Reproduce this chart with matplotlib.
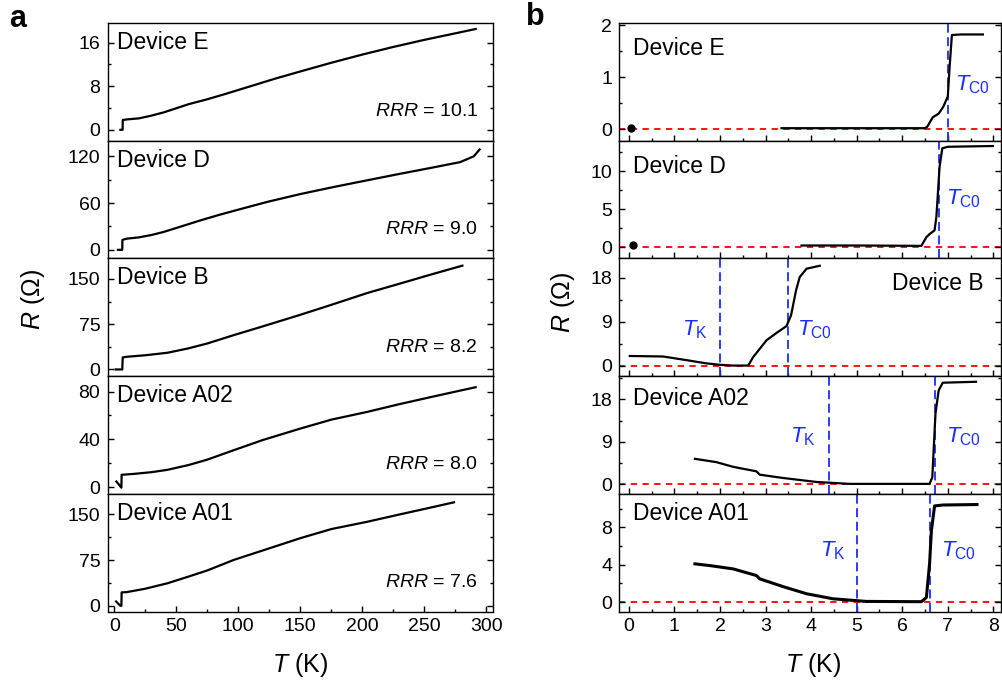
import matplotlib
matplotlib.use("Agg")
import matplotlib.pyplot as plt
from matplotlib.ticker import MultipleLocator

plt.rcParams['font.family'] = ['Liberation Sans', 'DejaVu Sans']
plt.rcParams['mathtext.fontset'] = 'custom'
plt.rcParams['mathtext.rm'] = 'Liberation Sans'
plt.rcParams['mathtext.it'] = 'Liberation Sans:italic'
plt.rcParams['mathtext.bf'] = 'Liberation Sans:bold'
plt.rcParams['axes.linewidth'] = 1.0

# ---- panel a: R(T) up to room temperature ----
devices = ["Device E", "Device D", "Device B", "Device A02", "Device A01"]
rrr = ["10.1", "9.0", "8.2", "8.0", "7.6"]

T_a_E = [5, 6.8, 6.9, 10, 20, 30, 40, 50, 60, 75, 90, 110, 130, 150, 175,
         200, 225, 250, 275, 291.5]
R_a_E = [0, 0, 1.8, 1.9, 2.1, 2.6, 3.2, 3.95, 4.7, 5.6, 6.6, 8.0, 9.4, 10.7,
         12.3, 13.8, 15.2, 16.5, 17.7, 18.5]
T_a_D = [3, 6.5, 6.6, 10, 20, 30, 40, 50, 60, 70, 85, 100, 123.5, 150, 177,
         205, 231, 255, 279, 290, 294.7]
R_a_D = [0, 0, 12.7, 14.3, 16, 19, 23, 28, 33, 38, 45, 51.5, 61.5, 71.5,
         80.6, 89.5, 97.7, 105, 112.5, 120, 128.7]
T_a_B = [1.2, 6.5, 6.9, 10, 25, 43, 60, 75, 96.6, 120, 150, 175, 204, 230,
         255, 280.8]
R_a_B = [0, 0, 20, 21, 23.5, 27.7, 35, 43, 57, 71.5, 90.5, 107, 126.6, 142,
         157, 172]
T_a_A02 = [1.8, 5.8, 6.0, 16, 30, 43, 60, 75, 96.6, 120, 150, 175, 204, 230,
           260, 291.5]
R_a_A02 = [4.7, -0.5, 10.3, 11.1, 12.5, 14.5, 18.5, 23, 31, 39.5, 49, 56.5,
           63, 69.5, 76.5, 83.7]
T_a_A01 = [1.5, 5, 5.8, 6.0, 10, 25, 43, 60, 75, 96.6, 120, 150, 175, 204,
           230, 250, 274]
R_a_A01 = [7, 0, 0, 22, 22.4, 28, 37, 48, 58, 75.5, 91, 111, 126, 138, 150,
           159, 170]

a_T = [T_a_E, T_a_D, T_a_B, T_a_A02, T_a_A01]
a_R = [R_a_E, R_a_D, R_a_B, R_a_A02, R_a_A01]
a_ylim = [(-2, 19.6), (-11, 140), (-11, 184), (-5.6, 93), (-9.4, 184)]
a_major = [8, 60, 75, 40, 75]

# ---- panel b: low temperature ----
T_b_E = [3.35, 4.5, 5.5, 6.5, 6.55, 6.67, 6.8, 6.9, 7.0, 7.04, 7.09, 7.3, 7.77]
R_b_E = [0.02, 0.02, 0.02, 0.02, 0.05, 0.23, 0.3, 0.43, 0.63, 1.2, 1.81, 1.82, 1.82]
T_b_D = [3.79, 5, 6.42, 6.53, 6.6, 6.71, 6.75, 6.82, 6.88, 7.0, 7.99]
R_b_D = [0.2, 0.2, 0.15, 1.3, 1.7, 2.2, 4, 10.6, 13, 13.2, 13.3]
T_b_B = [0.02, 0.75, 1.26, 1.7, 2.0, 2.3, 2.62, 2.73, 2.85, 3.02, 3.24, 3.46,
         3.56, 3.67, 3.75, 3.9, 4.19]
R_b_B = [2.0, 1.9, 1.16, 0.5, 0.2, 0.05, 0.05, 1.8, 3.2, 5.2, 6.7, 8.1,
         10.3, 15.4, 18.1, 19.8, 20.4]
T_b_A02 = [1.45, 1.92, 2.29, 2.8, 2.87, 3.38, 4.12, 4.85, 6.6, 6.66, 6.7,
           6.73, 6.8, 6.89, 7.62]
R_b_A02 = [5.4, 4.7, 3.7, 2.75, 2.05, 1.35, 0.5, 0.1, 0.1, 1.5, 9.3,
           15, 19.9, 21.5, 21.7]
T_b_A01 = [1.45, 1.8, 2.29, 2.8, 2.87, 3.38, 3.9, 4.48, 5.21, 6.42, 6.53,
           6.6, 6.64, 6.71, 6.89, 7.64]
R_b_A01 = [4.1, 3.9, 3.56, 2.85, 2.5, 1.67, 0.9, 0.36, 0.08, 0.05, 0.5,
           4.1, 7.65, 10.3, 10.4, 10.45]

b_T = [T_b_E, T_b_D, T_b_B, T_b_A02, T_b_A01]
b_R = [R_b_E, R_b_D, R_b_B, R_b_A02, R_b_A01]
b_ylim = [(-0.22, 2.04), (-1.5, 14), (-2.1, 21.9), (-2, 22.9), (-1, 11.6)]
b_major = [1, 5, 9, 9, 4]

# single points near T = 0 (Device E, D)
dot_T = [0.05, 0.1]
dot_R = [0.02, 0.2]

Tc0 = [7.0, 6.8, 3.5, 6.73, 6.62]
TK = [None, None, 2.0, 4.4, 5.0]
# label positions (T, R)
tc_lab = [(7.15, 0.85), (6.95, 6.4), (3.68, 7.3), (6.95, 10.0), (6.85, 5.5)]
tk_lab = [None, None, (1.74, 7.3), (4.1, 10.0), (4.77, 5.5)]
dev_pos_b = [0.785, 0.78, 0.787, 0.81, 0.83]

blue = '#1a2cff'
fs_tick = 14
fs_dev = 16.5
fs_rrr = 14
fs_t = 16

fig = plt.figure(figsize=(10.02, 6.84), dpi=100)
top = 1 - 23 / 684
h = (611.5 - 23) / 5 / 684

axes_a = []
for i in range(5):
    ax = fig.add_axes([108 / 1002, top - (i + 1) * h, 385 / 1002, h],
                      sharex=axes_a[0] if axes_a else None)
    axes_a.append(ax)
    ax.plot(a_T[i], a_R[i], color='black', lw=1.6)
    ax.set_ylim(*a_ylim[i])
    ax.yaxis.set_major_locator(MultipleLocator(a_major[i]))
    ax.yaxis.set_minor_locator(MultipleLocator(a_major[i] / 2))
    ax.tick_params(which='both', direction='in', left=True, right=True,
                   top=False, bottom=(i == 4), labelbottom=(i == 4),
                   labelsize=fs_tick)
    ax.tick_params(which='major', length=4, width=1)
    ax.tick_params(which='minor', length=2.5, width=1)
    ax.tick_params(axis='y', pad=5.5)
    ax.tick_params(axis='x', pad=4.5)
    ax.text(0.023, 0.835, devices[i], transform=ax.transAxes, fontsize=fs_dev,
            ha='left', va='center')
    ax.text(0.961, 0.245, "$RRR$ = " + rrr[i], transform=ax.transAxes,
            fontsize=fs_rrr, ha='right', va='center')
axes_a[0].set_xlim(-5, 305.5)
axes_a[0].xaxis.set_major_locator(MultipleLocator(50))
axes_a[0].xaxis.set_minor_locator(MultipleLocator(25))

axes_b = []
for i in range(5):
    ax = fig.add_axes([619.3 / 1002, top - (i + 1) * h, 381.8 / 1002, h],
                      sharex=axes_b[0] if axes_b else None)
    axes_b.append(ax)
    ax.axhline(0, color='red', lw=1.3, ls=(0, (3.5, 3)), zorder=1)
    ax.plot(b_T[i], b_R[i], color='black', lw=2.2 if i == 4 else 1.6, zorder=3)
    if i < 2:
        ax.plot(dot_T[i], dot_R[i], 'o', color='black', ms=5, zorder=3)
    ax.axvline(Tc0[i], color=blue, lw=1.3, ls=(0, (5, 2.5)), zorder=2)
    ax.text(tc_lab[i][0], tc_lab[i][1], r"$T_{\mathrm{C0}}$", color=blue,
            fontsize=fs_t, ha='left', va='center')
    if TK[i] is not None:
        ax.axvline(TK[i], color=blue, lw=1.3, ls=(0, (5, 2.5)), zorder=2)
        ax.text(tk_lab[i][0], tk_lab[i][1], r"$T_{\mathrm{K}}$", color=blue,
                fontsize=fs_t, ha='right', va='center')
    ax.set_ylim(*b_ylim[i])
    ax.yaxis.set_major_locator(MultipleLocator(b_major[i]))
    ax.yaxis.set_minor_locator(MultipleLocator(b_major[i] / 2))
    ax.tick_params(which='both', direction='in', left=True, right=True,
                   top=False, bottom=True, labelbottom=(i == 4),
                   labelsize=fs_tick)
    ax.tick_params(which='major', length=4, width=1)
    ax.tick_params(which='minor', length=2.5, width=1)
    ax.tick_params(axis='y', pad=5)
    ax.tick_params(axis='x', pad=4.5)
    if i == 2:
        ax.text(0.953, dev_pos_b[i], devices[i], transform=ax.transAxes,
                fontsize=fs_dev, ha='right', va='center')
    else:
        ax.text(0.035, dev_pos_b[i], devices[i], transform=ax.transAxes,
                fontsize=fs_dev, ha='left', va='center')
axes_b[0].set_xlim(-0.21, 8.17)
axes_b[0].xaxis.set_major_locator(MultipleLocator(1))
axes_b[0].xaxis.set_minor_locator(MultipleLocator(0.5))

fig.text(33 / 1002, 1 - 300 / 684, "$R$ (Ω)", rotation=90, fontsize=18,
         ha='center', va='center')
fig.text(563 / 1002, 1 - 303 / 684, "$R$ (Ω)", rotation=90, fontsize=18,
         ha='center', va='center')
fig.text(300 / 1002, 1 - 665 / 684, "$T$ (K)", fontsize=18,
         ha='center', va='center')
fig.text(813 / 1002, 1 - 665 / 684, "$T$ (K)", fontsize=18,
         ha='center', va='center')
fig.text(9 / 1002, 1 - 19 / 684, "a", fontsize=22, fontweight='bold',
         ha='left', va='center')
fig.text(526 / 1002, 1 - 17 / 684, "b", fontsize=22, fontweight='bold',
         ha='left', va='center')

fig.savefig("out.png", dpi=100)
